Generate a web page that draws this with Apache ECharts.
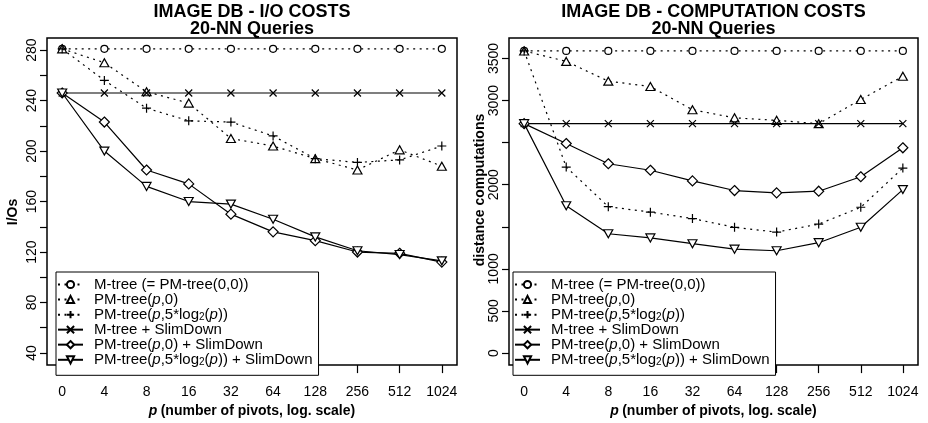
<!DOCTYPE html>
<html><head><meta charset="utf-8">
<script src="https://cdn.jsdelivr.net/npm/echarts@6/dist/echarts.min.js"></script>
<style>html,body{margin:0;padding:0;background:#fff}#c{width:928px;height:423px}</style>
</head><body><div id="c"></div>
<script>
// ---- data ----
const pivots = ['0','4','8','16','32','64','128','256','512','1024'];
const seriesNames = ['M-tree (= PM-tree(0,0))','PM-tree(p,0)','PM-tree(p,5*log2(p))','M-tree + SlimDown','PM-tree(p,0) + SlimDown','PM-tree(p,5*log2(p)) + SlimDown'];
// I/O costs
const ioMtree   = [281,281,281,281,281,281,281,281,281,281];
const ioPm0     = [281,270,247,238,210,204,194,185,201,188];
const ioPm5     = [281,256,234,224,223,212,194,191,193,204];
const ioMtreeSd = [246,246,246,246,246,246,246,246,246,246];
const ioPm0Sd   = [246,223,185,174,150,136,129,120,119,112];
const ioPm5Sd   = [246,200,172,160,158,146,132,121,118,113];
// computation costs
const dcMtree   = [3590,3590,3590,3590,3590,3590,3590,3590,3590,3590];
const dcPm0     = [3590,3466,3231,3167,2891,2795,2765,2726,3013,3289];
const dcPm5     = [3590,2210,1739,1674,1598,1494,1437,1532,1732,2198];
const dcMtreeSd = [2726,2726,2726,2726,2726,2726,2726,2726,2726,2726];
const dcPm0Sd   = [2726,2490,2249,2172,2045,1931,1904,1923,2095,2439];
const dcPm5Sd   = [2726,1750,1417,1368,1299,1234,1215,1311,1494,1942];
// tick values / labels
const ioTicks  = [40,60,80,100,120,140,160,180,200,220,240,260,280];
const ioLabels = [40,80,120,160,200,240,280];
const dcTicks  = [0,500,1000,1500,2000,2500,3000,3500];
const dcLabels = [0,500,1000,2000,3000,3500];

// ---- styles ----
const FF = '"Liberation Sans", Arial, Helvetica, sans-serif';
const DOT = [2, 4.5];
const styles = [
  {symbol:'circle', size:7, dashed:true},
  {symbol:'triangle', size:[9,8], dashed:true},
  {symbol:'path://M5,0L5,10M0,5L10,5', size:9, dashed:true},
  {symbol:'path://M0,0L10,10M10,0L0,10', size:7, dashed:false},
  {symbol:'diamond', size:10, dashed:false},
  {symbol:'triangle', size:[9,8], dashed:false, rotate:180}
];
function mk(idx, arr, gi) {
  const s = styles[idx];
  return {
    type:'line', name: seriesNames[idx], xAxisIndex: gi, yAxisIndex: gi,
    data: arr.map((v,i)=>[i,v]),
    symbol: s.symbol, symbolSize: s.size, symbolRotate: s.rotate || 0,
    showAllSymbol: true,
    lineStyle:{color:'#000', width:1.2, type: s.dashed ? DOT : 'solid'},
    itemStyle:{color:'#fff', borderColor:'#000', borderWidth:1.2},
    emphasis:{disabled:true}, z: 2+idx
  };
}
const ioData = [ioMtree, ioPm0, ioPm5, ioMtreeSd, ioPm0Sd, ioPm5Sd];
const dcData = [dcMtree, dcPm0, dcPm5, dcMtreeSd, dcPm0Sd, dcPm5Sd];

const LH = 14.7;
const rich = {
  n:{fontSize:15, fontFamily:FF, color:'#000', lineHeight:LH},
  i:{fontSize:15, fontFamily:FF, color:'#000', fontStyle:'italic', lineHeight:LH},
  s:{fontSize:10, fontFamily:FF, color:'#000', lineHeight:LH, verticalAlign:'bottom', padding:[5,0,0,0]}
};
function legendFmt(name){
  return name.replace(/log2/g,'log\u0001').split(/(p|\u0001)/).map(t=>{
    if (t==='') return '';
    if (t==='\u0001') return '{s|2}';
    if (t==='p') return '{i|p}';
    return '{n|'+t+'}';
  }).join('');
}
function mkLegend(left){
  return {
    left: left, top: 272, orient:'vertical', data: seriesNames,
    itemWidth: 25, itemHeight: 9, itemGap: 0,
    padding:[5,6,8,1], borderColor:'#000', borderWidth:1, backgroundColor:'#fff',
    selectedMode:false, formatter: legendFmt,
    textStyle:{fontSize:15, fontFamily:FF, color:'#000', lineHeight:LH, padding:[0,0,0,6], rich: rich}
  };
}
function mkX(gi){
  return {
    type:'value', gridIndex: gi, min:-0.36, max:9.36,
    axisLine:{show:false, onZero:false},
    axisTick:{show:true, length:8, lineStyle:{color:'#000', width:1.2}, customValues: pivots.map((p,i)=>i)},
    axisLabel:{show:true, margin:20, fontSize:14, fontFamily:FF, color:'#000',
      customValues: pivots.map((p,i)=>i), formatter: v => pivots[Math.round(v)]},
    splitLine:{show:false},
    name: '{ip|p} {b|(number of pivots, log. scale)}', nameLocation:'middle', nameGap: 38,
    nameTextStyle:{rich:{ip:{fontSize:14, fontWeight:'bold', fontStyle:'italic', fontFamily:FF, color:'#000'},
                        b:{fontSize:14, fontWeight:'bold', fontFamily:FF, color:'#000'}}}
  };
}
function mkY(gi, min, max, ticks, labels){
  return {
    type:'value', gridIndex: gi, min:min, max:max,
    axisLine:{show:false, onZero:false},
    axisTick:{show:true, length:7, lineStyle:{color:'#000', width:1.2}, customValues: ticks},
    axisLabel:{show:true, rotate:90, margin:8, fontSize:14, fontFamily:FF, color:'#000', customValues: labels,
      formatter: v => String(v)},
    splitLine:{show:false}
  };
}
const chart = echarts.init(document.getElementById('c'), null, {renderer:'canvas'});
chart.setOption({
  animation:false,
  backgroundColor:'#fff',
  title:[
    {text:'IMAGE DB - I/O COSTS\n20-NN Queries', left:252, top:3, textAlign:'center', padding:0,
     textStyle:{fontSize:18, fontWeight:'bold', fontFamily:FF, color:'#000', lineHeight:17.5}},
    {text:'IMAGE DB - COMPUTATION COSTS\n20-NN Queries', left:713.5, top:3, textAlign:'center', padding:0,
     textStyle:{fontSize:18, fontWeight:'bold', fontFamily:FF, color:'#000', lineHeight:17.5}}
  ],
  grid:[
    {left:47, right:471, top:38, bottom:46, show:true, borderColor:'#000', borderWidth:1.5, backgroundColor:'transparent'},
    {left:509, right:10, top:38, bottom:46, show:true, borderColor:'#000', borderWidth:1.5, backgroundColor:'transparent'}
  ],
  legend:[mkLegend(56), mkLegend(513)],
  xAxis:[mkX(0), mkX(1)],
  yAxis:[mkY(0, 30.4, 289.6, ioTicks, ioLabels), mkY(1, -144, 3744, dcTicks, dcLabels)],
  graphic:[
    {type:'text', x:13.5, y:212, rotation:Math.PI/2,
     style:{text:'I/Os', fontSize:14, fontWeight:'bold', fontFamily:FF, fill:'#000', align:'center', verticalAlign:'middle'}},
    {type:'text', x:480, y:190, rotation:Math.PI/2,
     style:{text:'distance computations', fontSize:14, fontWeight:'bold', fontFamily:FF, fill:'#000', align:'center', verticalAlign:'middle'}}
  ],
  series: ioData.map((a,i)=>mk(i,a,0)).concat(dcData.map((a,i)=>mk(i,a,1)))
});
</script></body></html>
